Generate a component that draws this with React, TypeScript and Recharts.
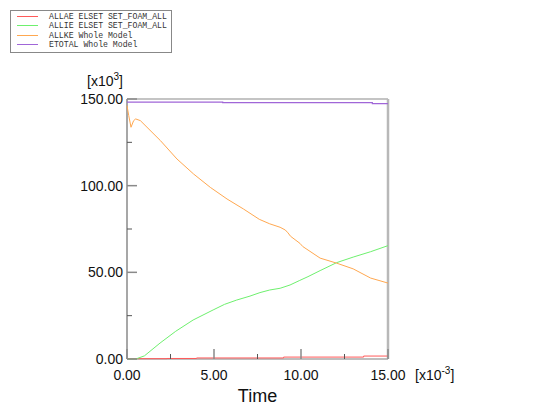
import React from 'react';
import { LineChart, Line, XAxis, YAxis, Legend } from 'recharts';

// time in [x10^-3], energies in [x10^3]
const allaeTime = [0, 2.3, 4.0, 9.0, 13.6, 15];
const allaeValue = [0.2, 0.3, 0.6, 1.1, 1.7, 1.7];

const allieTime = [0, 0.5, 1.0, 1.9, 2.8, 3.8, 4.95, 5.6, 6.3, 7.07, 7.64, 8.2, 8.8, 9.37, 9.9, 10.4, 11.1, 12.05, 13.0, 14.0, 15.0];
const allieValue = [0, 0, 1.8, 9.2, 16, 22.5, 28.3, 31.5, 34, 36.3, 38.3, 39.8, 40.8, 42.7, 45.2, 47.5, 51, 55.6, 58.8, 61.9, 65.4];

const allkeTime = [0, 0.1, 0.23, 0.38, 0.5, 0.77, 1.15, 1.92, 2.87, 3.83, 4.79, 5.75, 6.7, 7.6, 8.2, 8.8, 9.1, 9.25, 9.4, 9.94, 10.1, 11.1, 12.05, 13.0, 14.0, 15.0];
const allkeValue = [146.2, 140.4, 133.7, 137.5, 138.5, 137.5, 133.7, 126, 115.4, 106.7, 99, 92.3, 86.5, 80.6, 78, 76, 74.4, 72.8, 70.8, 66.7, 64.9, 58.2, 55.3, 52, 46.7, 43.8];

const etotalTime = [0, 5.5, 14.1, 15];
const etotalValue = [148.2, 147.9, 147.3, 147.3];

const xTicks = [0, 2.5, 5, 7.5, 10, 12.5, 15];
const yTicks = [0, 25, 50, 75, 100, 125, 150];

const toPoints = (t: number[], v: number[]) => t.map((time, i) => ({ time, value: v[i] }));

const allaeData = toPoints(allaeTime, allaeValue);
const allieData = toPoints(allieTime, allieValue);
const allkeData = toPoints(allkeTime, allkeValue);
const etotalData = toPoints(etotalTime, etotalValue);

const COLORS = {
  allae: '#ff5a5a',
  allie: '#6ef06e',
  allke: '#ffa850',
  etotal: '#a066d8',
};

const FONT = '"Liberation Sans", Arial, sans-serif';
const TICK_MAJOR = '#8a8a8a';
const TICK_MINOR = '#555';

const isMajor = (v: number, step: number) => Math.abs(v / step - Math.round(v / step)) < 1e-6;

const BottomTick = ({ x, y, payload }: any) => {
  const major = isMajor(payload.value, 5);
  return (
    <g>
      <line x1={x} x2={x} y1={y} y2={y - (major ? 10 : 5)} stroke={major ? TICK_MAJOR : TICK_MINOR} strokeWidth={major ? 1.5 : 1} />
      {major && (
        <text x={x} y={y + 21} textAnchor="middle" fontFamily={FONT} fontSize={14} fill="#111">
          {payload.value.toFixed(2)}
        </text>
      )}
    </g>
  );
};

const TopTick = ({ x, y, payload }: any) => {
  const major = isMajor(payload.value, 5);
  return <line x1={x} x2={x} y1={y} y2={y + (major ? 10 : 5)} stroke={major ? TICK_MAJOR : TICK_MINOR} strokeWidth={major ? 1.5 : 1} />;
};

const LeftTick = ({ x, y, payload }: any) => {
  const major = isMajor(payload.value, 50);
  return (
    <g>
      <line x1={x} x2={x + (major ? 10 : 5)} y1={y} y2={y} stroke={major ? TICK_MAJOR : TICK_MINOR} strokeWidth={major ? 1.5 : 1} />
      {major && (
        <text x={x - 4} y={y + 5} textAnchor="end" fontFamily={FONT} fontSize={14} fill="#111">
          {payload.value.toFixed(2)}
        </text>
      )}
    </g>
  );
};

const RightTick = ({ x, y, payload }: any) => {
  const major = isMajor(payload.value, 50);
  return <line x1={x} x2={x - (major ? 10 : 5)} y1={y} y2={y} stroke={major ? TICK_MAJOR : TICK_MINOR} strokeWidth={major ? 1.5 : 1} />;
};

const YScaleNote = ({ viewBox }: any) => (
  <text x={viewBox.x + viewBox.width - 4} y={viewBox.y - 13} textAnchor="end" fontFamily={FONT} fontSize={14} fill="#111">
    [x10<tspan dy={-6} fontSize={10}>3</tspan><tspan dy={6}>]</tspan>
  </text>
);

const XAxisNotes = ({ viewBox }: any) => (
  <g>
    <text x={viewBox.x + viewBox.width + 27} y={viewBox.y + 21} fontFamily={FONT} fontSize={14} fill="#111">
      [x10<tspan dy={-6} fontSize={10}>-3</tspan><tspan dy={6}>]</tspan>
    </text>
    <text x={viewBox.x + viewBox.width / 2} y={viewBox.y + 43} textAnchor="middle" fontFamily={FONT} fontSize={18} fill="#111">
      Time
    </text>
  </g>
);

const LEGEND_COLORS: Record<string, string> = {
  'ALLAE ELSET SET_FOAM_ALL': COLORS.allae,
  'ALLIE ELSET SET_FOAM_ALL': COLORS.allie,
  'ALLKE Whole Model': COLORS.allke,
  'ETOTAL Whole Model': COLORS.etotal,
};

const LegendBox = ({ payload }: any) => (
  <div
    style={{
      boxSizing: 'border-box',
      width: 162,
      height: 43,
      border: '1px solid #888',
      background: '#fff',
      paddingTop: 1,
      paddingLeft: 6,
    }}
  >
    {(payload || []).map((entry: any) => (
      <div key={entry.value} style={{ display: 'flex', alignItems: 'center', height: 9.3 }}>
        <span style={{ display: 'inline-block', width: 21, height: 1, background: LEGEND_COLORS[entry.value] || entry.color, marginRight: 11 }} />
        <span style={{ fontFamily: '"Liberation Mono", monospace', fontSize: 8.2, color: '#333', lineHeight: '9.3px', whiteSpace: 'pre' }}>
          {entry.value}
        </span>
      </div>
    ))}
  </div>
);

export default function App() {
  return (
    <div style={{ position: 'absolute', left: 0, top: 0, width: 553, height: 419, background: '#fff' }}>
      <LineChart width={553} height={419} margin={{ top: 98, right: 164, bottom: 59, left: 126 }}>
        <XAxis
          type="number"
          dataKey="time"
          domain={[0, 15]}
          ticks={xTicks}
          interval={0}
          height={1}
          tickSize={0}
          tickMargin={0}
          tickLine={false}
          axisLine={{ stroke: '#a8a8a8', strokeWidth: 1.5 }}
          tick={<BottomTick />}
          label={<XAxisNotes />}
        />
        <XAxis
          xAxisId="top"
          orientation="top"
          type="number"
          dataKey="time"
          domain={[0, 15]}
          ticks={xTicks}
          interval={0}
          height={1}
          tickSize={0}
          tickMargin={0}
          tickLine={false}
          axisLine={{ stroke: '#8a8a8a', strokeWidth: 1.2 }}
          tick={<TopTick />}
        />
        <YAxis
          type="number"
          domain={[0, 150]}
          ticks={yTicks}
          interval={0}
          width={1}
          tickSize={0}
          tickMargin={0}
          tickLine={false}
          axisLine={{ stroke: '#8a8a8a', strokeWidth: 1.5 }}
          tick={<LeftTick />}
          label={<YScaleNote />}
        />
        <YAxis
          yAxisId="right"
          orientation="right"
          type="number"
          domain={[0, 150]}
          ticks={yTicks}
          interval={0}
          width={1}
          tickSize={0}
          tickMargin={0}
          tickLine={false}
          axisLine={{ stroke: '#b8b8b8', strokeWidth: 2.5 }}
          tick={<RightTick />}
        />
        <Legend
          layout="vertical"
          align="center"
          verticalAlign="middle"
          wrapperStyle={{ top: 10, left: 10, width: 162, height: 43 }}
          content={<LegendBox />}
        />
        <Line data={allaeData} dataKey="value" name="ALLAE ELSET SET_FOAM_ALL" type="stepAfter" stroke={COLORS.allae} strokeWidth={1} dot={false} isAnimationActive={false} zIndex={900} />
        <Line data={allieData} dataKey="value" name="ALLIE ELSET SET_FOAM_ALL" type="linear" stroke={COLORS.allie} strokeWidth={1} dot={false} isAnimationActive={false} zIndex={900} />
        <Line data={allkeData} dataKey="value" name="ALLKE Whole Model" type="linear" stroke={COLORS.allke} strokeWidth={1} dot={false} isAnimationActive={false} zIndex={900} />
        <Line data={etotalData} dataKey="value" name="ETOTAL Whole Model" type="stepAfter" stroke={COLORS.etotal} strokeWidth={1.2} dot={false} isAnimationActive={false} zIndex={900} />
      </LineChart>
    </div>
  );
}
